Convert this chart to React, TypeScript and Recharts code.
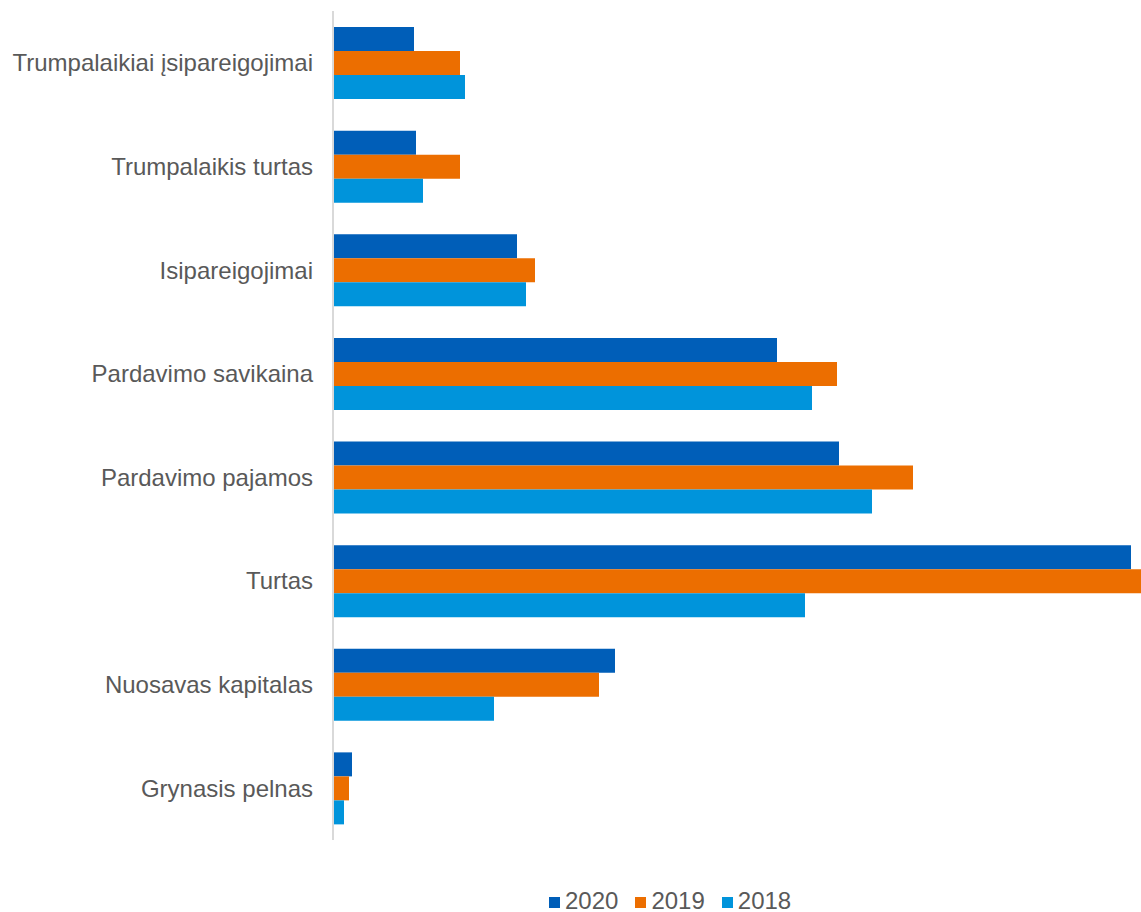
import { BarChart, Bar, XAxis, YAxis } from 'recharts';

// category labels, top to bottom
const categories = [
    'Trumpalaikiai įsipareigojimai',
    'Trumpalaikis turtas',
    'Isipareigojimai',
    'Pardavimo savikaina',
    'Pardavimo pajamos',
    'Turtas',
    'Nuosavas kapitalas',
    'Grynasis pelnas',
];

// values (relative units)
const values2020 = [81, 83, 184, 444, 506, 798, 282, 19];
const values2019 = [127, 127, 202, 504, 580, 808, 266, 16];
const values2018 = [132, 90, 193, 479, 539, 472, 161, 11];

const series = [
    { key: 'y2020', name: '2020', color: '#005EB8' },
    { key: 'y2019', name: '2019', color: '#EC6E00' },
    { key: 'y2018', name: '2018', color: '#0094DB' },
];

const data = categories.map((c, i) => ({
    name: c,
    y2020: values2020[i],
    y2019: values2019[i],
    y2018: values2018[i],
}));

const font = '"Liberation Sans", Arial, sans-serif';

function LegendBox() {
    return (
        <div style={{ position: 'absolute', left: 549, top: 891, display: 'flex', gap: 17, fontFamily: font, fontSize: 24, lineHeight: '20px', color: '#595959' }}>
            {series.map((s) => (
                <div key={s.key} style={{ display: 'flex', alignItems: 'center', gap: 5 }}>
                    <span style={{ width: 11, height: 11, marginTop: 3, background: s.color, display: 'inline-block' }}></span>
                    <span>{s.name}</span>
                </div>
            ))}
        </div>
    );
}

export default function App() {
    return (
        <div style={{ position: 'absolute', left: 0, top: 0, width: 1141, height: 912, background: '#fff' }}>
            <BarChart
                width={1141}
                height={912}
                data={data}
                layout="vertical"
                margin={{ top: 11, right: 0, left: 0, bottom: 72 }}
                barGap={0}
                barSize={24}
            >
                <XAxis type="number" domain={[0, 808]} hide />
                <YAxis
                    type="category"
                    dataKey="name"
                    width={333}
                    axisLine={{ stroke: '#D9D9D9', strokeWidth: 2 }}
                    tickLine={false}
                    tickMargin={14}
                    interval={0}
                    tick={{ fill: '#595959', fontSize: 24, fontFamily: font }}
                />
                {series.map((s) => (
                    <Bar key={s.key} dataKey={s.key} name={s.name} fill={s.color} isAnimationActive={false} />
                ))}
            </BarChart>
            <LegendBox />
        </div>
    );
}
